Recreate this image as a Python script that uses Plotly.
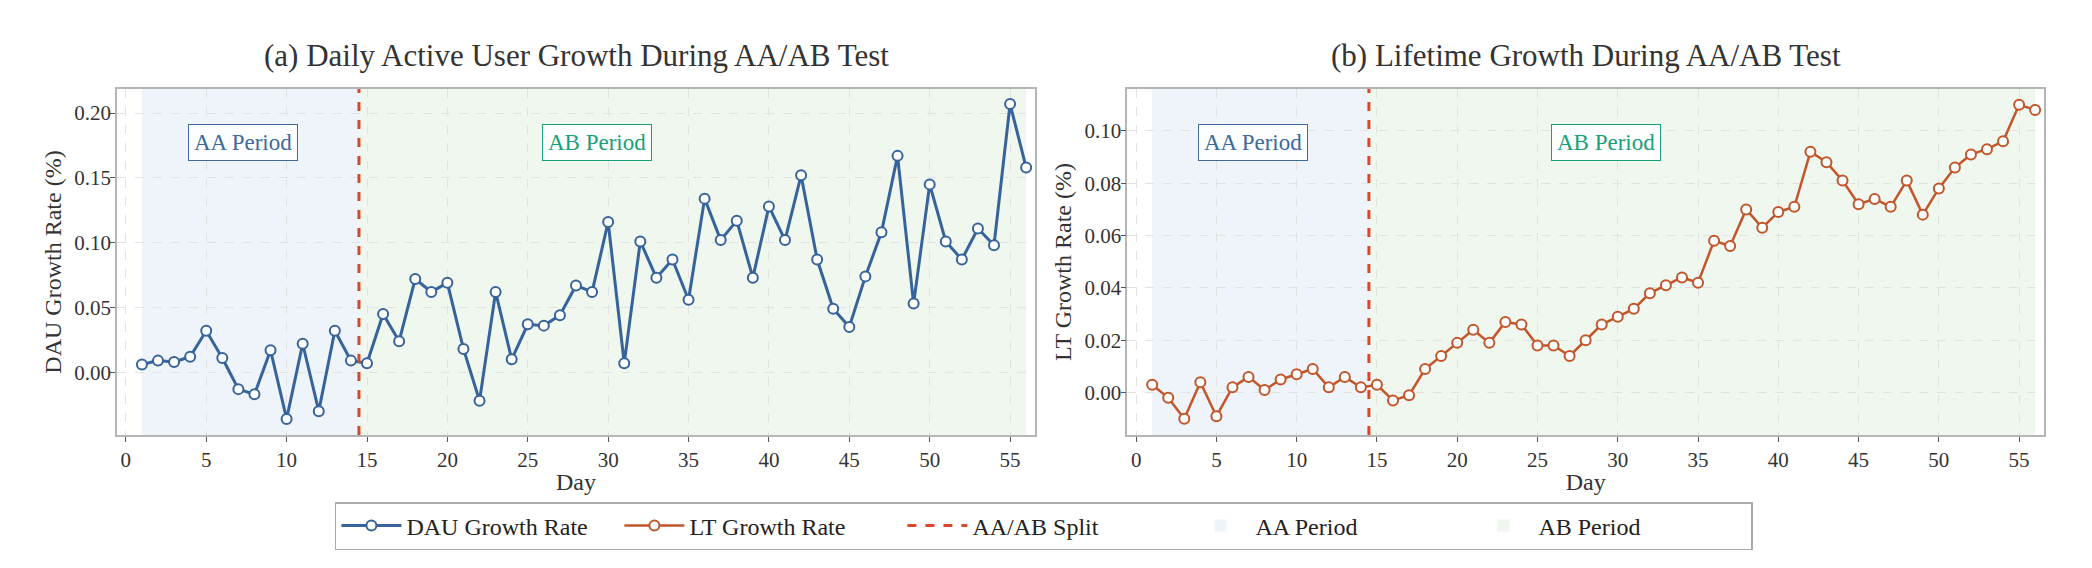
import plotly.graph_objects as go

days = list(range(1, 57))
dau_growth = [0.006, 0.009, 0.008, 0.012, 0.032, 0.011, -0.013, -0.017, 0.017, -0.036,
              0.022, -0.030, 0.032, 0.009, 0.007, 0.045, 0.024, 0.072, 0.062, 0.069,
              0.018, -0.022, 0.062, 0.010, 0.037, 0.036, 0.044, 0.067, 0.062, 0.116,
              0.007, 0.101, 0.073, 0.087, 0.056, 0.134, 0.102, 0.117, 0.073, 0.128,
              0.102, 0.152, 0.087, 0.049, 0.035, 0.074, 0.108, 0.167, 0.053, 0.145,
              0.101, 0.087, 0.111, 0.098, 0.207, 0.158]
lt_growth = [0.003, -0.002, -0.010, 0.004, -0.009, 0.002, 0.006, 0.001, 0.005, 0.007,
             0.009, 0.002, 0.006, 0.002, 0.003, -0.003, -0.001, 0.009, 0.014, 0.019,
             0.024, 0.019, 0.027, 0.026, 0.018, 0.018, 0.014, 0.020, 0.026, 0.029,
             0.032, 0.038, 0.041, 0.044, 0.042, 0.058, 0.056, 0.070, 0.063, 0.069,
             0.071, 0.092, 0.088, 0.081, 0.072, 0.074, 0.071, 0.081, 0.068, 0.078,
             0.086, 0.091, 0.093, 0.096, 0.110, 0.108]
aa_span = [1, 14.5]
ab_span = [14.5, 56]
split_day = 14.5
x_ticks = [0, 5, 10, 15, 20, 25, 30, 35, 40, 45, 50, 55]

FONT = "Liberation Serif"
DAU_C = "#36649a"
LT_C = "#c2562a"
SPLIT_C = "#d9472b"
AA_FILL = "#eef4fa"
AB_FILL = "#eff7ef"
AA_TXT = "#3b6a9c"
AB_TXT = "#18a07a"
W, H = 2092, 568

fig = go.Figure()

fig.add_trace(go.Scatter(x=days, y=dau_growth, mode="lines+markers", name="DAU Growth Rate",
                         line=dict(color=DAU_C, width=3),
                         marker=dict(size=10, color="white", line=dict(color=DAU_C, width=2)),
                         xaxis="x", yaxis="y", legendrank=1))
fig.add_trace(go.Scatter(x=days, y=lt_growth, mode="lines+markers", name="LT Growth Rate",
                         line=dict(color=LT_C, width=2.5),
                         marker=dict(size=10, color="white", line=dict(color=LT_C, width=2)),
                         xaxis="x2", yaxis="y2", legendrank=2))

for i, (xr, yr) in enumerate([("x", "y"), ("x2", "y2")]):
    first = i == 0
    fig.add_shape(type="rect", xref=xr, yref=yr + " domain", x0=aa_span[0], x1=aa_span[1],
                  y0=0, y1=1, fillcolor=AA_FILL, line=dict(width=0), layer="below",
                  name="AA Period", showlegend=first, legendrank=4)
    fig.add_shape(type="rect", xref=xr, yref=yr + " domain", x0=ab_span[0], x1=ab_span[1],
                  y0=0, y1=1, fillcolor=AB_FILL, line=dict(width=0), layer="below",
                  name="AB Period", showlegend=first, legendrank=5)
    fig.add_shape(type="line", xref=xr, yref=yr + " domain", x0=split_day, x1=split_day,
                  y0=0, y1=1, line=dict(color=SPLIT_C, width=3, dash="dash"), layer="above",
                  name="AA/AB Split", showlegend=first, legendrank=3)
    for txt, fx, col in [("AA Period", 0.137, AA_TXT), ("AB Period", 0.5225, AB_TXT)]:
        fig.add_annotation(text=txt, xref=xr + " domain", yref=yr + " domain", x=fx, y=0.845,
                           xanchor="center", yanchor="middle",
                           showarrow=False, font=dict(family=FONT, size=23, color=col),
                           bgcolor="rgba(255,255,255,0.85)", bordercolor=col, borderwidth=1,
                           borderpad=5)

axis_common = dict(showline=True, mirror=True, linecolor="#b5b5b5", linewidth=1.5,
                   showgrid=True, gridcolor="#e2e2e2", griddash="dash", gridwidth=1,
                   ticks="outside", ticklen=5, tickcolor="#555555", zeroline=False,
                   tickfont=dict(family=FONT, size=21, color="#333333"), automargin=False)

yb, yt = 1 - 435 / H, 1 - 89 / H
title_font = dict(family=FONT, size=24, color="#333333")
fig.update_layout(
    width=W, height=H, margin=dict(l=0, r=0, t=0, b=0),
    plot_bgcolor="white", paper_bgcolor="white",
    font=dict(family=FONT, color="#333333"),
    xaxis=dict(domain=[117 / W, 1035 / W], range=[-0.55, 56.55], tickvals=x_ticks, anchor="y",
               title=dict(text="Day", font=title_font, standoff=2),
               **axis_common),
    yaxis=dict(domain=[yb, yt], range=[-0.0484, 0.2186], dtick=0.05, tickformat=".2f", anchor="x",
               title=dict(text="DAU Growth Rate (%)", font=title_font, standoff=6),
               ticklabelstandoff=-5, **axis_common),
    xaxis2=dict(domain=[1127.3 / W, 2044 / W], range=[-0.55, 56.55], tickvals=x_ticks, anchor="y2",
                title=dict(text="Day", font=title_font, standoff=2),
                **axis_common),
    yaxis2=dict(domain=[yb, yt], range=[-0.0162, 0.116], dtick=0.02, tickformat=".2f", anchor="x2",
                title=dict(text="LT Growth Rate (%)", font=title_font, standoff=6),
                ticklabelstandoff=-5, **axis_common),
    legend=dict(orientation="h", x=0.499, xanchor="center", y=1 - 502 / H, yanchor="top",
                bordercolor="#aaaaaa", borderwidth=1.5, bgcolor="white",
                font=dict(family=FONT, size=24, color="#222222"),
                entrywidth=208, entrywidthmode="pixels", itemwidth=60),
    showlegend=True,
)

fig.add_annotation(text="(a) Daily Active User Growth During AA/AB Test", xref="x domain", yref="paper",
                   x=0.5, y=1 - 56 / H, showarrow=False, xanchor="center", yanchor="middle",
                   font=dict(family=FONT, size=31, color="#333333"))
fig.add_annotation(text="(b) Lifetime Growth During AA/AB Test", xref="x2 domain", yref="paper",
                   x=0.5, y=1 - 56 / H, showarrow=False, xanchor="center", yanchor="middle",
                   font=dict(family=FONT, size=31, color="#333333"))

fig.write_html("out.html")
